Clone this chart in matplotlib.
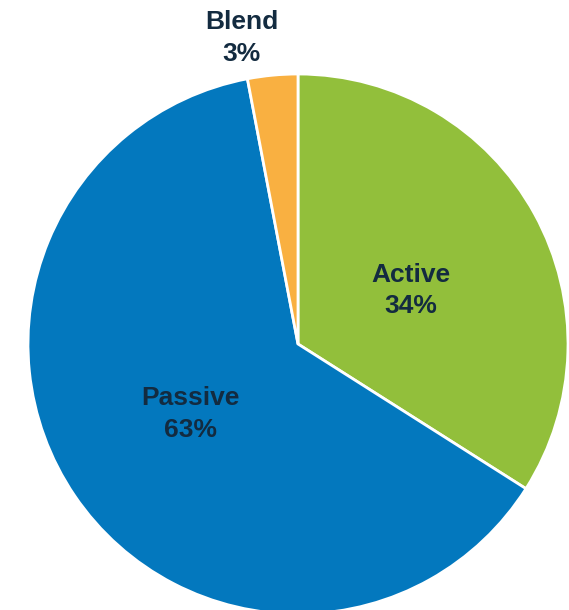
import matplotlib.pyplot as plt
import numpy as np

# data
labels = ["Active", "Passive", "Blend"]
shares = [34, 63, 3]
colors = ["#92BF3B", "#0378BE", "#F9B041"]

# label placement: (distance from centre, angle tweak in degrees)
label_dist = [0.462, 0.475, 1.152]
label_dtheta = [-3.5, -1, 5]

fig = plt.figure(figsize=(5.69, 6.10), dpi=100)
ax = fig.add_axes([28 / 569, -4 / 610, 540 / 569, 540 / 610])

wedges, _ = ax.pie(
    shares,
    colors=colors,
    startangle=90,
    counterclock=False,
    radius=1.0,
    wedgeprops=dict(edgecolor="white", linewidth=2),
)

for w, lab, val, d, dt in zip(wedges, labels, shares, label_dist, label_dtheta):
    mid = np.deg2rad((w.theta1 + w.theta2) / 2 + dt)
    ax.text(
        d * np.cos(mid),
        d * np.sin(mid),
        f"{lab}\n{val}%",
        ha="center",
        va="center",
        fontsize=19,
        fontweight="bold",
        family="Liberation Sans",
        color="#132B40",
        linespacing=1.4,
    )

ax.set_xlim(-1, 1)
ax.set_ylim(-1, 1)
ax.set_aspect("equal")
ax.axis("off")

fig.savefig("out.png", dpi=100)
